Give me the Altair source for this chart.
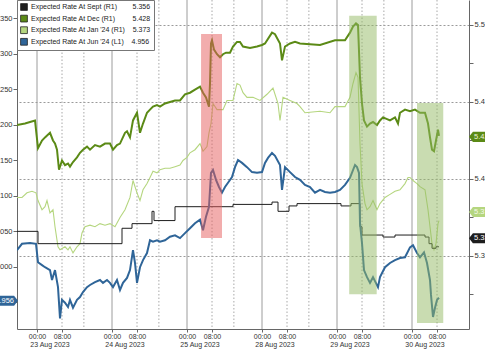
import altair as alt
import pandas as pd

# ---------------- data (x = hours since 23 Aug 2023 00:00 on the weekend-free axis) -------------
S_SEPT = "Expected Rate At Sept (R1)"
S_DEC = "Expected Rate At Dec (R1)"
S_JAN = "Expected Rate At Jan '24 (R1)"
S_JUN = "Expected Rate At Jun '24 (L1)"
last_values = ["5.356", "5.428", "5.373", "4.956"]

jun_h = [-6.4, -4.8, -2.24, -0.32, 0.32, 1.6, 2.56, 4.16, 4.8, 5.76,
         6.72, 7.36, 8.0, 8.96, 9.92, 10.56, 11.52, 12.8, 13.76, 14.72,
         16.0, 16.96, 18.56, 20.16, 21.12, 22.4, 23.36, 24.32, 25.6, 26.56,
         27.52, 28.8, 29.76, 30.72, 31.36, 32.0, 32.96, 33.92, 35.2, 36.16,
         37.12, 38.4, 39.36, 40.96, 42.56, 44.16, 45.76, 47.36, 48.96, 50.56,
         52.16, 53.12, 54.08, 55.04, 55.68, 56.32, 57.28, 58.24, 59.2, 60.16,
         61.12, 62.4, 63.36, 64.32, 65.6, 67.2, 68.8, 70.4, 72.0, 72.96,
         73.92, 75.2, 76.16, 77.76, 78.4, 79.36, 80.96, 82.56, 84.16, 85.76,
         87.36, 88.96, 90.56, 92.16, 93.76, 95.36, 96.96, 98.56, 100.16, 101.76,
         102.4, 103.04, 103.36, 104.0, 104.64, 105.6, 106.56, 107.52, 109.12, 109.76,
         111.36, 112.96, 114.56, 116.16, 117.76, 119.36, 120.32, 121.6, 122.56, 123.84,
         124.8, 125.76, 126.08, 126.72, 127.36, 128.0, 128.64]
jun_v = [5.023, 5.032, 5.033, 5.032, 5.006, 5.002, 4.999, 4.995, 4.981, 4.995,
         4.971, 4.927, 4.953, 4.949, 4.943, 4.953, 4.942, 4.953, 4.957, 4.964,
         4.971, 4.974, 4.978, 4.981, 4.977, 4.981, 4.977, 4.971, 4.981, 4.967,
         4.977, 4.984, 4.995, 5.023, 5.005, 4.977, 4.999, 5.009, 5.019, 5.037,
         5.035, 5.037, 5.035, 5.037, 5.042, 5.044, 5.040, 5.047, 5.054, 5.061,
         5.066, 5.051, 5.070, 5.084, 5.132, 5.136, 5.122, 5.112, 5.104, 5.112,
         5.118, 5.126, 5.140, 5.150, 5.146, 5.140, 5.133, 5.132, 5.133, 5.146,
         5.153, 5.160, 5.156, 5.143, 5.108, 5.140, 5.133, 5.126, 5.122, 5.115,
         5.112, 5.104, 5.108, 5.105, 5.104, 5.105, 5.108, 5.115, 5.125, 5.143,
         5.140, 5.132, 5.061, 5.033, 4.995, 4.985, 4.977, 4.985, 4.971, 4.985,
         4.999, 5.005, 5.009, 5.012, 5.013, 5.027, 5.030, 5.019, 5.013, 5.020,
         5.005, 4.981, 4.960, 4.929, 4.942, 4.953, 4.956]

dec_h = [-6.4, -3.84, -2.24, -0.64, 0.32, 1.6, 2.56, 4.16, 5.12, 5.76,
         6.4, 7.04, 8.0, 8.96, 9.92, 10.56, 11.52, 12.8, 13.76, 14.72,
         16.0, 16.96, 18.56, 20.16, 21.76, 23.36, 24.32, 25.6, 26.56, 28.16,
         28.8, 29.76, 30.72, 32.0, 32.96, 33.92, 35.2, 36.16, 37.12, 38.4,
         39.36, 40.96, 42.56, 44.16, 45.76, 47.36, 48.96, 50.56, 52.16, 53.12,
         54.08, 55.04, 55.36, 55.68, 56.0, 56.64, 57.6, 58.56, 59.52, 60.48,
         61.76, 62.72, 64.0, 64.96, 65.92, 68.16, 70.4, 72.0, 72.96, 75.2,
         76.16, 77.76, 78.4, 79.36, 80.96, 82.56, 84.16, 90.56, 95.36, 98.56,
         100.16, 101.12, 102.08, 102.72, 103.36, 104.0, 104.64, 105.6, 106.56, 107.52,
         108.8, 109.76, 110.72, 112.96, 114.56, 115.52, 116.16, 117.76, 119.36, 120.96,
         122.56, 124.16, 125.12, 125.76, 126.4, 127.04, 127.68, 128.32, 128.64]
dec_v = [5.435, 5.436, 5.437, 5.438, 5.420, 5.425, 5.427, 5.430, 5.425, 5.423,
         5.419, 5.406, 5.412, 5.409, 5.410, 5.408, 5.411, 5.414, 5.417, 5.419,
         5.421, 5.419, 5.422, 5.421, 5.423, 5.423, 5.419, 5.422, 5.423, 5.430,
         5.431, 5.427, 5.438, 5.443, 5.430, 5.436, 5.443, 5.445, 5.447, 5.448,
         5.447, 5.449, 5.450, 5.451, 5.451, 5.455, 5.456, 5.458, 5.460, 5.456,
         5.453, 5.447, 5.462, 5.488, 5.490, 5.484, 5.481, 5.479, 5.481, 5.482,
         5.482, 5.486, 5.489, 5.489, 5.486, 5.485, 5.486, 5.487, 5.488, 5.495,
         5.494, 5.488, 5.477, 5.486, 5.488, 5.489, 5.488, 5.487, 5.490, 5.490,
         5.495, 5.499, 5.501, 5.500, 5.466, 5.449, 5.438, 5.434, 5.436, 5.437,
         5.435, 5.438, 5.440, 5.438, 5.440, 5.436, 5.443, 5.445, 5.444, 5.445,
         5.443, 5.443, 5.436, 5.427, 5.419, 5.418, 5.425, 5.432, 5.428]

jan_h = [-6.4, -4.8, -3.2, -1.6, -0.32, 0.32, 1.6, 2.56, 3.2, 4.16,
         5.12, 5.76, 6.72, 7.36, 8.96, 9.92, 10.56, 11.52, 12.8, 13.76,
         14.4, 15.36, 16.96, 18.56, 20.16, 21.76, 23.36, 24.96, 26.56, 28.16,
         29.76, 30.72, 32.0, 32.96, 33.92, 35.2, 36.16, 37.12, 38.4, 39.36,
         40.96, 42.56, 44.16, 45.76, 46.72, 48.0, 48.96, 50.56, 52.16, 53.12,
         54.4, 55.04, 55.68, 56.32, 57.6, 59.52, 60.8, 62.72, 64.0, 64.96,
         65.92, 67.2, 69.12, 71.36, 73.6, 75.52, 77.12, 77.76, 78.72, 80.96,
         83.2, 84.16, 85.76, 90.56, 93.76, 95.36, 96.96, 98.56, 100.16, 101.12,
         102.08, 102.72, 103.36, 104.0, 104.96, 105.6, 106.56, 107.52, 108.8, 109.76,
         111.36, 112.96, 114.56, 116.16, 117.76, 118.72, 119.36, 120.32, 121.6, 122.56,
         124.16, 125.12, 125.76, 126.4, 127.04, 127.68, 128.32, 128.64]
jan_v = [5.388, 5.388, 5.391, 5.392, 5.391, 5.386, 5.380, 5.382, 5.386, 5.378,
         5.380, 5.369, 5.356, 5.354, 5.356, 5.354, 5.356, 5.352, 5.356, 5.358,
         5.365, 5.369, 5.370, 5.369, 5.371, 5.370, 5.371, 5.369, 5.375, 5.380,
         5.388, 5.399, 5.391, 5.386, 5.393, 5.397, 5.401, 5.405, 5.404, 5.406,
         5.407, 5.407, 5.408, 5.409, 5.412, 5.414, 5.417, 5.419, 5.423, 5.418,
         5.421, 5.430, 5.436, 5.449, 5.445, 5.445, 5.451, 5.451, 5.462, 5.461,
         5.456, 5.453, 5.453, 5.451, 5.455, 5.459, 5.449, 5.438, 5.453, 5.451,
         5.449, 5.447, 5.443, 5.444, 5.443, 5.447, 5.447, 5.447, 5.453, 5.462,
         5.469, 5.466, 5.423, 5.397, 5.384, 5.380, 5.382, 5.386, 5.380, 5.384,
         5.388, 5.390, 5.392, 5.393, 5.397, 5.401, 5.401, 5.399, 5.397, 5.395,
         5.393, 5.380, 5.369, 5.358, 5.354, 5.358, 5.371, 5.373]

sept_h = [-6.4, 0.32, 27.2, 30.4, 36.8, 37.44, 44.16, 62.72, 75.2, 77.12, 80.64, 83.2,
          97.28, 100.48, 103.36, 104.0, 110.72, 114.56, 124.16, 125.44, 126.4, 127.68, 128.64]
sept_v = [5.366, 5.358, 5.368, 5.371, 5.379, 5.373, 5.382, 5.3835, 5.385, 5.379, 5.3825, 5.384,
          5.3825, 5.384, 5.369, 5.3636, 5.3623, 5.3636, 5.3623, 5.358, 5.355, 5.356, 5.356]

# highlighted windows
hl_x1 = [52.5, 99.9, 121.6]
hl_x2 = [59.2, 108.7, 130.0]
hl_y1 = [5.3617, 5.3251, 5.3065]
hl_y2 = [5.4942, 5.506, 5.4494]
hl_fill = ["#e65c5c", "#93b963", "#93b963"]

day_starts = [0, 24, 48, 72, 96, 120]
session_marks = [8, 15, 32, 39, 56, 63, 80, 87, 104, 111, 128]
time_ticks = [0, 8, 24, 32, 48, 56, 72, 80, 96, 104, 120, 128]
date_ticks = [4, 28, 52, 76, 100, 124]
date_labels = ["23 Aug 2023", "24 Aug 2023", "25 Aug 2023", "28 Aug 2023", "29 Aug 2023", "30 Aug 2023"]
left_ticks = [4.95, 5.0, 5.05, 5.1, 5.15, 5.2, 5.25, 5.3, 5.35]
right_ticks = [5.325, 5.35, 5.375, 5.4, 5.425, 5.45, 5.475, 5.5]

# ---------------- styling -------------
NB = "\u00a0"
names = [S_SEPT, S_DEC, S_JAN, S_JUN]
pads = [8, 9, 4, 4]
legend_names = [n + NB * p + v for n, p, v in zip(names, pads, last_values)]
colors = ["#1e1e1e", "#5b8a16", "#b5d67f", "#2f6598"]
FONT = "Liberation Sans"
W, H = 452, 329

x_scale = alt.Scale(domain=[-6.4, 138.24], nice=False, zero=False)
yl_scale = alt.Scale(domain=[4.912, 5.3754], nice=False, zero=False)
yr_scale = alt.Scale(domain=[5.3026, 5.5162], nice=False, zero=False)
color_scale = alt.Scale(domain=legend_names, range=colors)

legend = alt.Legend(
    orient="top-left", offset=0, title=None, fillColor="white", strokeColor="#777",
    padding=3, symbolType="square", symbolSize=46, symbolStrokeColor="#222",
    symbolStrokeWidth=0.8, labelFontSize=7, labelFont=FONT, labelColor="#222",
    labelLimit=400, rowPadding=1.6, labelOffset=3, cornerRadius=0,
)

time_axis = alt.Axis(
    orient="bottom", values=time_ticks, title=None, grid=False, tickSize=3, labelPadding=0,
    labelExpr="datum.value % 24 == 0 ? '00:00' : '08:00'", labelFontSize=7,
    labelFlush=False, labelOverlap=False, domainColor="#666", tickColor="#666",
)
date_axis = alt.Axis(
    orient="bottom", values=date_ticks, title=None, grid=False, ticks=False, tickSize=0,
    domain=False, labelPadding=11.5, labelFontSize=7, labelFlush=False, labelOverlap=False,
    labelExpr="[" + ",".join("'" + d + "'" for d in date_labels) + "][round((datum.value - 4) / 24)]",
)
left_axis = alt.Axis(
    orient="left", values=left_ticks, format=".3f", title=None, grid=False, tickSize=4,
    labelPadding=1, labelFontSize=7.5, domainColor="#666", tickColor="#666",
)
multiple_of_05 = "abs(datum.value * 20 - round(datum.value * 20)) < 0.01"
right_axis = alt.Axis(
    orient="right", values=right_ticks, title=None, grid=True, tickSize=4, labelPadding=1,
    labelFontSize=7.5, domainColor="#666", tickColor="#666",
    labelExpr=multiple_of_05 + " ? format(datum.value, '.2f') : ''",
    gridDash=[2, 2], gridColor="#9a9a9a",
    gridOpacity={"condition": {"test": multiple_of_05, "value": 1}, "value": 0},
)

Xn = alt.X("h:Q", scale=x_scale, axis=None)

day_rules = alt.Chart(pd.DataFrame({"h": day_starts})).mark_rule(
    color="#9c9c9c", strokeWidth=1).encode(x=alt.X("h:Q", scale=x_scale, axis=date_axis))
sess_rules = alt.Chart(pd.DataFrame({"h": session_marks})).mark_rule(
    color="#a8a8a8", strokeWidth=1, strokeDash=[1.5, 2]).encode(x=Xn)


def line(h, v, color, width, scale, axis=None, interp="linear"):
    return alt.Chart(pd.DataFrame({"h": h, "v": v})).mark_line(
        color=color, strokeWidth=width, clip=True, interpolate=interp
    ).encode(
        x=Xn, y=alt.Y("v:Q", scale=scale, axis=axis)
    )


jan_line = line(jan_h, jan_v, colors[2], 1.1, yr_scale)
sept_line = line(sept_h, sept_v, colors[0], 1.0, yr_scale, interp="step-after")
dec_line = line(dec_h, dec_v, colors[1], 2.0, yr_scale, axis=right_axis)
jun_line = line(jun_h, jun_v, colors[3], 2.0, yl_scale).encode(
    x=alt.X("h:Q", scale=x_scale, axis=time_axis),
    y=alt.Y("v:Q", scale=yl_scale, axis=left_axis),
)

rects = alt.Chart(pd.DataFrame({"x1": hl_x1, "x2": hl_x2, "y1": hl_y1, "y2": hl_y2, "f": hl_fill})).mark_rect(
    opacity=0.5).encode(
    x=alt.X("x1:Q", scale=x_scale, axis=None), x2="x2:Q",
    y=alt.Y("y1:Q", scale=yr_scale, axis=None), y2="y2:Q",
    fill=alt.Fill("f:N", scale=None),
)

RIGHT_TAG = "M-1,0 L-0.72,-0.36 L1,-0.36 L1,0.36 L-0.72,0.36 Z"
LEFT_TAG = "M1,0 L0.72,-0.36 L-1,-0.36 L-1,0.36 L0.72,0.36 Z"


def tag(idx, value, scale, right, dy, text_color):
    df = pd.DataFrame({"v": [value], "s": [legend_names[idx]], "t": [last_values[idx]]})
    base = alt.Chart(df)
    box = base.mark_point(
        shape=RIGHT_TAG if right else LEFT_TAG, size=784, filled=True, opacity=1,
        yOffset=dy, clip=False,
    ).encode(
        x=alt.value(W + 14 if right else -13),
        y=alt.Y("v:Q", scale=scale, axis=None),
        color=alt.Color("s:N", scale=color_scale, legend=legend),
    )
    txt = base.mark_text(
        align="left" if right else "right", baseline="middle", fontSize=7.5, font=FONT,
        color=text_color, yOffset=dy, clip=False,
    ).encode(
        x=alt.value(W + 5 if right else -3),
        y=alt.Y("v:Q", scale=scale, axis=None),
        text="t:N",
    )
    return [box, txt]


tags = []
tags += tag(1, float(last_values[1]), yr_scale, True, 1, "#eef5dc")
tags += tag(2, float(last_values[2]), yr_scale, True, -8.5, "#f4f9e8")
tags += tag(0, float(last_values[0]), yr_scale, True, -8.5, "#ffffff")
tags += tag(3, float(last_values[3]), yl_scale, False, 3, "#ffffff")

chart = alt.layer(
    day_rules, sess_rules, jan_line, sept_line, dec_line, jun_line, rects, *tags
).resolve_scale(y="independent").resolve_axis(x="independent").properties(
    width=W, height=H,
    autosize=alt.AutoSizeParams(type="none"),
    padding={"left": 17, "top": 0, "right": 16, "bottom": 21},
    background="white",
).configure_view(stroke=None).configure_axis(
    labelFont=FONT, labelColor="#333"
)

chart.save("out.html", embed_options={"renderer": "svg", "actions": False})
